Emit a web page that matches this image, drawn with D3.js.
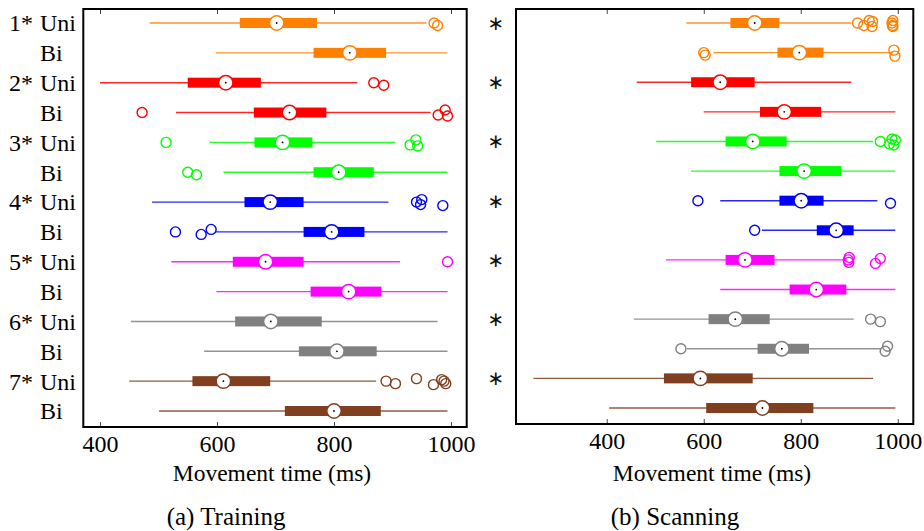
<!DOCTYPE html>
<html>
<head>
<meta charset="utf-8">
<script src="https://cdn.jsdelivr.net/npm/d3@7"></script>
<style>
  html, body { margin: 0; padding: 0; background: #fff; }
  svg { display: block; }
  text { font-family: "Liberation Serif", "Times New Roman", "DejaVu Serif", serif; fill: #000; }
</style>
</head>
<body>
<svg id="chart" width="924" height="531"></svg>
<script>
// ---------- data ----------
const conditions = ["1", "2", "3", "4", "5", "6", "7"];
const modes = ["Uni", "Bi"];
const colors = ["#FF8000", "#FF0000", "#00FF00", "#0000FF", "#FF00FF", "#808080", "#804020"];
const tickValues = [400, 600, 800, 1000];
const axisLabel = "Movement time (ms)";
const captions = ["(a) Training", "(b) Scanning"];

// Rows ordered: 1 Uni, 1 Bi, 2 Uni, 2 Bi, ...
const trainLow  = [485, 598, 400, 530, 587, 611, 489, 597, 522, 599, 453, 578, 450, 501];
const trainQ1   = [639, 765, 550, 663, 664, 765, 647, 748, 627, 760, 631, 740, 558, 716];
const trainMed  = [702, 827, 615, 724, 712, 808, 691, 796, 683, 825, 692, 805, 611, 800];
const trainQ3   = [771, 889, 675, 787, 763, 868, 748, 852, 748, 881, 779, 873, 691, 880];
const trainHigh = [958, 994, 840, 965, 905, 994, 893, 994, 913, 994, 977, 994, 872, 994];
const trainOut  = [[971, 977], [], [868, 885], [472, 978, 990, 994], [513, 930, 940, 943], [550, 565],
                   [941, 948, 950, 986], [529, 573, 590], [994], [], [], [],
                   [889, 905, 941, 970, 984, 988, 991], []];
const trainSig  = [true, true, true, true, true, true, true];

const scanLow  = [564, 620, 462, 600, 502, 574, 634, 720, 522, 634, 456, 565, 249, 405];
const scanQ1   = [655, 752, 574, 716, 645, 756, 756, 833, 645, 777, 610, 711, 518, 605];
const scanMed  = [705, 797, 634, 766, 701, 807, 801, 873, 685, 832, 665, 761, 593, 721];
const scanQ3   = [756, 847, 705, 842, 771, 884, 847, 909, 746, 894, 736, 817, 701, 826];
const scanHigh = [904, 990, 904, 995, 949, 995, 958, 995, 895, 995, 909, 966, 949, 995];
const scanOut  = [[917, 930, 941, 947, 948, 988, 989, 990, 990], [600, 603, 992, 994], [], [],
                  [964, 983, 988, 992, 995], [], [588, 985], [705],
                  [898, 899, 900, 954, 964], [], [944, 964], [553, 974, 979], [], []];
const scanSig  = [true, true, true, true, true, true, true];

// ---------- build ----------
const rowKeys = [];
conditions.forEach(c => modes.forEach(m => rowKeys.push(c + "|" + m)));

function makeRows(low, q1, med, q3, high, out) {
  return rowKeys.map((k, i) => ({
    key: k, cond: +k.split("|")[0] - 1, mode: k.split("|")[1],
    low: low[i], q1: q1[i], med: med[i], q3: q3[i], high: high[i], out: out[i]
  }));
}

const panels = [
  { rows: makeRows(trainLow, trainQ1, trainMed, trainQ3, trainHigh, trainOut), sig: trainSig,
    frame: { x0: 83.3, x1: 466.7, y0: 9, y1: 427 }, domain: [371.5, 1026.8],
    rowRange: [23, 411], labels: "left", caption: captions[0], captionX: 226, labelX: 272 },
  { rows: makeRows(scanLow, scanQ1, scanMed, scanQ3, scanHigh, scanOut), sig: scanSig,
    frame: { x0: 516, x1: 913.3, y0: 9, y1: 424 }, domain: [213, 1032],
    rowRange: [23, 408], labels: "star", caption: captions[1], captionX: 675, labelX: 712 }
];

const svg = d3.select("#chart");

panels.forEach(p => {
  const f = p.frame;
  const x = d3.scaleLinear().domain(p.domain).range([f.x0, f.x1]);
  const y = d3.scalePoint().domain(rowKeys).range(p.rowRange);
  const g = svg.append("g");

  // axes (inward ticks)
  const bottom = g.append("g").attr("transform", `translate(0,${f.y1})`)
    .call(d3.axisBottom(x).tickValues(tickValues).tickSize(-5).tickPadding(7.5).tickFormat(d3.format("d")));
  bottom.select(".domain").remove();
  bottom.selectAll(".tick line").attr("stroke", "#444").attr("stroke-width", 1);
  bottom.selectAll(".tick text").attr("font-size", 24).attr("fill", "#000");

  const top = g.append("g").attr("transform", `translate(0,${f.y0})`)
    .call(d3.axisTop(x).tickValues(tickValues).tickSize(-5).tickFormat(""));
  top.select(".domain").remove();
  top.selectAll(".tick line").attr("stroke", "#444").attr("stroke-width", 1);

  // rows
  p.rows.forEach(r => {
    const c = colors[r.cond];
    const cy = y(r.key);
    const rg = g.append("g");
    rg.append("line").attr("x1", x(r.low)).attr("x2", x(r.high))
      .attr("y1", cy).attr("y2", cy).attr("stroke", c).attr("stroke-width", 1.4).attr("stroke-opacity", 0.85);
    rg.append("rect").attr("x", x(r.q1)).attr("width", x(r.q3) - x(r.q1))
      .attr("y", cy - 5).attr("height", 10).attr("fill", c);
    rg.selectAll("circle.out").data(r.out).join("circle").attr("class", "out")
      .attr("cx", d => x(d)).attr("cy", (d, j) => cy + [0, 2.5, -2.5, 3.5, -1.5][j % 5])
      .attr("r", 5).attr("fill", "none").attr("stroke", c).attr("stroke-width", 1.4);
    rg.append("circle").attr("cx", x(r.med)).attr("cy", cy).attr("r", 7.2)
      .attr("fill", "#fff").attr("stroke", c).attr("stroke-width", 1.5);
    rg.append("circle").attr("cx", x(r.med)).attr("cy", cy).attr("r", 0.9).attr("fill", "#000");
  });

  // frame
  g.append("rect").attr("x", f.x0).attr("y", f.y0).attr("width", f.x1 - f.x0).attr("height", f.y1 - f.y0)
    .attr("fill", "none").attr("stroke", "#000").attr("stroke-width", 2);

  // row labels
  if (p.labels === "left") {
    p.rows.forEach(r => {
      const cy = y(r.key);
      if (r.mode === "Uni") {
        g.append("text").attr("x", 33).attr("y", cy).attr("dy", "0.35em")
          .attr("text-anchor", "end").attr("font-size", 24)
          .text(r.cond + 1 + (p.sig[r.cond] ? "*" : ""));
      }
      g.append("text").attr("x", 40).attr("y", cy).attr("dy", "0.35em")
        .attr("font-size", 24).text(r.mode);
    });
  } else {
    p.rows.filter(r => r.mode === "Uni" && p.sig[r.cond]).forEach(r => {
      g.append("text").attr("x", 496).attr("y", y(r.key) + 7).attr("text-anchor", "middle")
        .attr("font-size", 20).style("font-family", "DejaVu Sans").style("fill", "#111").text("\u2217");
    });
  }

  // axis label and caption
  g.append("text").attr("x", p.labelX).attr("y", 480.5).attr("text-anchor", "middle")
    .attr("font-size", 23.5).text(axisLabel);
  g.append("text").attr("x", p.captionX).attr("y", 525).attr("text-anchor", "middle")
    .attr("font-size", 25).text(p.caption);
});
</script>
</body>
</html>
